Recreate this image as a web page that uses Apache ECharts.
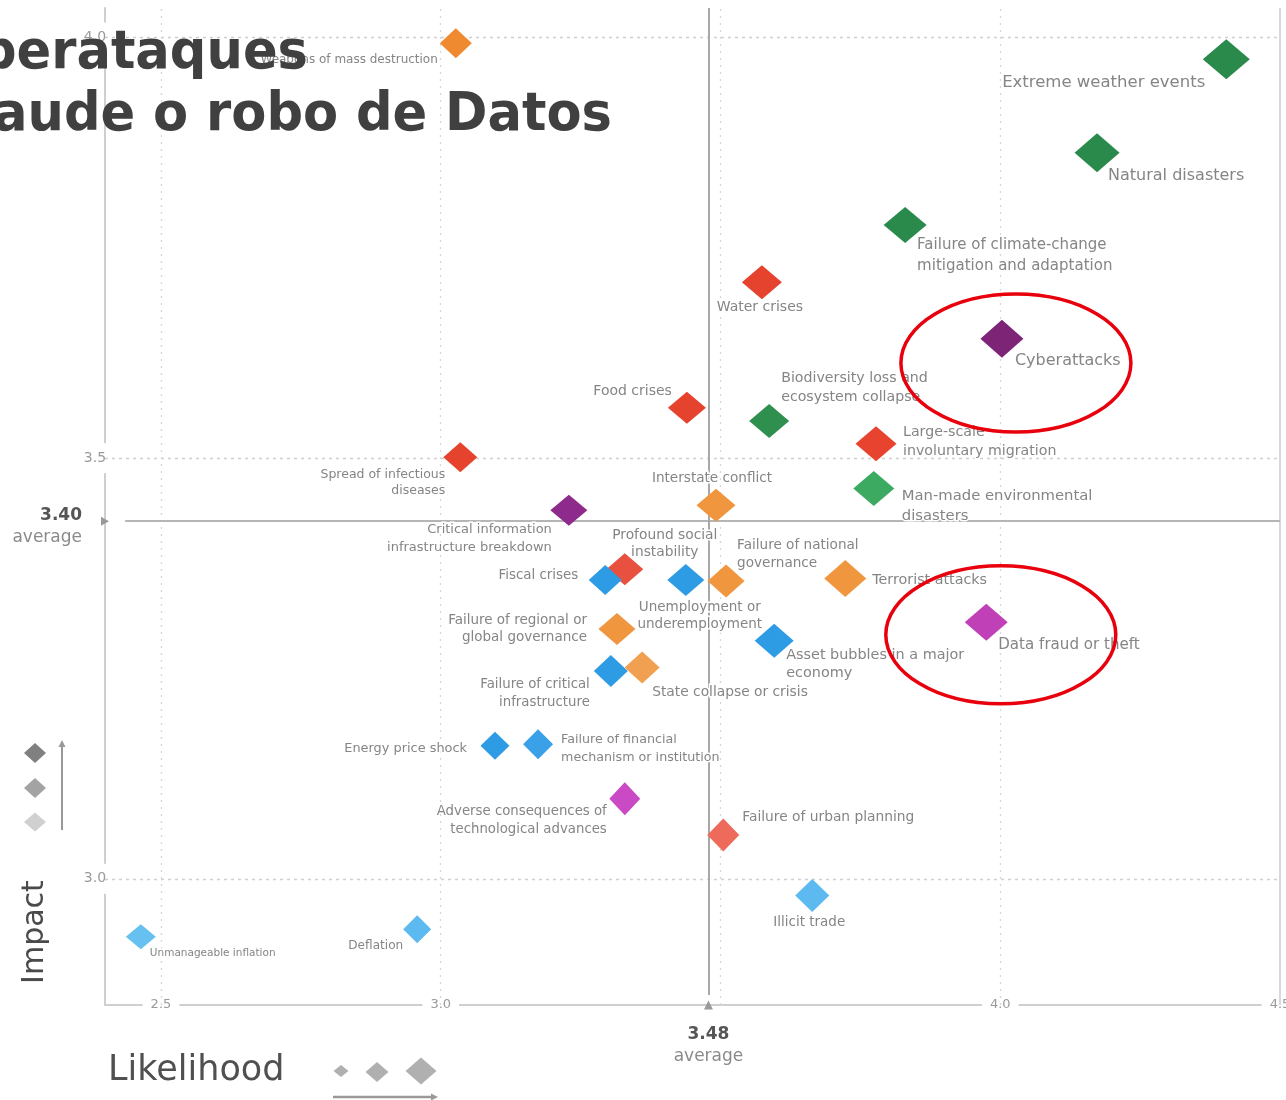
<!DOCTYPE html>
<html><head><meta charset="utf-8">
<script src="https://cdn.jsdelivr.net/npm/echarts@6/dist/echarts.min.js"></script>
<style>html,body{margin:0;padding:0;background:#fff;overflow:hidden;width:1286px;height:1100px}#c{width:1286px;height:1100px}</style>
</head><body><div id="c"></div>
<script>
// ---------- DATA ----------
const riskNames = [
  'Weapons of mass destruction',
  'Extreme weather events',
  'Natural disasters',
  'Failure of climate-change\nmitigation and adaptation',
  'Water crises',
  'Cyberattacks',
  'Biodiversity loss and\necosystem collapse',
  'Food crises',
  'Large-scale\ninvoluntary migration',
  'Spread of infectious\ndiseases',
  'Man-made environmental\ndisasters',
  'Interstate conflict',
  'Critical information\ninfrastructure breakdown',
  'Profound social\ninstability',
  'Fiscal crises',
  'Unemployment or\nunderemployment',
  'Failure of national\ngovernance',
  'Terrorist attacks',
  'Data fraud or theft',
  'Failure of regional or\nglobal governance',
  'Asset bubbles in a major\neconomy',
  'Failure of critical\ninfrastructure',
  'State collapse or crisis',
  'Energy price shock',
  'Failure of financial\nmechanism or institution',
  'Adverse consequences of\ntechnological advances',
  'Failure of urban planning',
  'Illicit trade',
  'Deflation',
  'Unmanageable inflation'
];
const likelihood = [3.027, 4.404, 4.173, 3.830, 3.574, 4.003, 3.587, 3.440, 3.778, 3.035,
                    3.774, 3.492, 3.229, 3.329, 3.294, 3.438, 3.510, 3.723, 3.975, 3.315,
                    3.596, 3.304, 3.360, 3.097, 3.174, 3.329, 3.505, 3.664, 2.958, 2.464];
const impact =     [3.993, 3.974, 3.863, 3.777, 3.709, 3.642, 3.544, 3.560, 3.517, 3.501,
                    3.464, 3.444, 3.438, 3.368, 3.355, 3.355, 3.354, 3.357, 3.305, 3.297,
                    3.283, 3.247, 3.251, 3.158, 3.160, 3.095, 3.052, 2.980, 2.940, 2.931];
const xTickValues = [2.5, 3.0, 4.0, 4.5];
const yTickValues = [3.0, 3.5, 4.0];
const xGridValues = [2.5, 3.0, 3.5, 4.0];
const yGridValues = [3.0, 3.5, 4.0];
const avgLikelihood = 3.48;
const avgImpact = 3.40;
const avgImpactLine = 3.425;     // where the average line is drawn in the picture
const avgLikelihoodLine = 3.4785;
const highlightCenters = [[4.028, 3.613], [4.001, 3.290]];

// ---------- STYLE ----------
const pointColors = ['#F08A30','#2A8A4C','#2A8A4C','#2A8A4C','#E5432D','#7D2477','#2F8F4E','#E5432D','#E8432F','#E5432D',
  '#3DAA62','#F0963E','#8E2A8C','#E8503F','#2E9BE5','#2E9BE5','#F0963E','#F0963E','#C040B8','#F0963E',
  '#2E9BE5','#2E9BE5','#F0A050','#2E9BE5','#3AA0E8','#C94AC4','#EE6A5A','#5CBAF0','#5CBAF0','#66C0F0'];
const symbolSizes = [[32,30],[47,40],[45,39],[43,36],[40,34],[43,38],[40,34],[38,32],[41,35],[34,30],
  [41,35],[39,33],[37,31],[37,32],[33,30],[37,32],[37,33],[42,37],[43,37],[37,32],
  [39,34],[34,32],[35,32],[29,28],[30,30],[31,33],[32,33],[34,33],[28,28],[30,25]];
// [align, dx, dy, fontSize, lineHeight]
const labelLayout = [
  ['right',-18,17,12,14], ['right',-21,23,16.5,20], ['left',11,23,16,20], ['left',12,30.5,15,21],
  ['center',-2,25,14,17], ['left',13,22,16,20], ['left',12,-33.5,14.2,19], ['right',-15,-16,14,17],
  ['left',27,-1.5,14.2,19], ['right',-15,25,12.5,16], ['left',28,18,14.8,20], ['center',-4,-27,13.6,17],
  ['right',-17,28,13,18], ['center',40,-25.5,13.8,17], ['right',-27,-5,13.4,16], ['center',14,35.5,13.5,17],
  ['left',11,-26,13.6,18], ['left',27,2,14.3,17], ['left',12,23,15.1,18], ['right',-30,0,13.5,17],
  ['left',12,24,14.4,18], ['right',-21,23,13.3,18], ['left',10,25,13.8,17], ['right',-28,3,12.9,16],
  ['left',23,5,12.7,18], ['right',-18,22,13.3,18], ['left',19,-18,13.8,17], ['center',-3,27,13.5,17],
  ['right',-14,17,12.1,15], ['left',9,16,10.5,13]
];
const FONT = 'DejaVu Sans';

const chart = echarts.init(document.getElementById('c'), null, {renderer: 'canvas', width: 1286, height: 1100});

const points = likelihood.map((x, i) => {
  const L = labelLayout[i];
  return {
    name: riskNames[i],
    value: [x, impact[i]],
    symbolSize: symbolSizes[i],
    itemStyle: {color: pointColors[i], opacity: 1},
    label: {
      show: true, position: 'inside', formatter: '{b}',
      align: L[0], verticalAlign: 'middle', offset: [L[1], L[2]],
      fontSize: L[3], lineHeight: L[4], fontFamily: FONT, color: '#858585',
      textBorderColor: '#fff', textBorderWidth: 3
    }
  };
});

const gridDash = {color: '#cfcfcf', width: 1.3, type: [3, 4]};
const markLineData = [];
yGridValues.forEach(v => markLineData.push({yAxis: v, lineStyle: gridDash}));
xGridValues.forEach(v => markLineData.push({xAxis: v, lineStyle: {color: '#d6d6d6', width: 1.3, type: [2, 5]}}));
markLineData.push({xAxis: 4.5, lineStyle: {color: '#d8d8d8', width: 2, type: 'solid'}});
markLineData.push([{coord: [2.436, avgImpactLine]}, {coord: [4.5, avgImpactLine], lineStyle: {color: '#b5b5b5', width: 2, type: 'solid'}}]);
markLineData.push([{coord: [avgLikelihoodLine, 4.035]}, {coord: [avgLikelihoodLine, 2.862], lineStyle: {color: '#a8a8a8', width: 2, type: 'solid'}}]);

const avgRich = {
  b: {fontFamily: FONT, fontWeight: 'bold', fontSize: 17, color: '#555', lineHeight: 22},
  n: {fontFamily: FONT, fontSize: 17, color: '#8a8a8a', lineHeight: 22}
};

const option = {
  animation: false,
  backgroundColor: '#fff',
  grid: {left: 105, right: 6, top: 8, bottom: 95, containLabel: false, outerBoundsMode: 'none'},
  xAxis: {
    type: 'value', min: 2.4, max: 4.5,
    splitLine: {show: false}, axisTick: {show: false},
    axisLine: {show: true, lineStyle: {color: '#cfcfcf', width: 2}},
    axisLabel: {
      customValues: xTickValues, formatter: v => v.toFixed(1),
      color: '#9a9a9a', fontSize: 13, fontFamily: FONT,
      verticalAlign: 'middle', margin: 0, backgroundColor: '#fff', padding: [2, 8]
    }
  },
  yAxis: {
    type: 'value', min: 2.85, max: 4.035,
    splitLine: {show: false}, axisTick: {show: false},
    axisLine: {show: true, lineStyle: {color: '#cfcfcf', width: 2}},
    axisLabel: {
      customValues: yTickValues, formatter: v => v.toFixed(1),
      color: '#9a9a9a', fontSize: 14, fontFamily: FONT,
      align: 'center', verticalAlign: 'middle', margin: 10, backgroundColor: '#fff', padding: [8, 2]
    }
  },
  series: [{
    type: 'scatter', z: 3, symbol: 'diamond',
    data: points,
    markLine: {
      z: 1, silent: true, symbol: ['none', 'none'], label: {show: false},
      data: markLineData
    },
    markPoint: {
      z: 4, silent: true,
      data: [
        {coord: [2.4, avgImpactLine], symbol: 'triangle', symbolRotate: -90, symbolSize: [9, 8],
         itemStyle: {color: '#9a9a9a'},
         label: {show: true, position: 'inside', align: 'right', verticalAlign: 'middle', offset: [-23, 5],
                 formatter: '{b|' + avgImpact.toFixed(2) + '}\n{n|average}', rich: avgRich}},
        {coord: [avgLikelihoodLine, 2.85], symbol: 'triangle', symbolSize: [9, 9],
         itemStyle: {color: '#9a9a9a'},
         label: {show: true, position: 'inside', align: 'center', verticalAlign: 'middle', offset: [0, 41],
                 formatter: '{b|' + avgLikelihood.toFixed(2) + '}\n{n|average}', rich: avgRich}}
      ]
    }
  }]
};
chart.setOption(option);

function diamond(cx, cy, w, h, color) {
  return {type: 'polygon', z: 50, shape: {points: [[cx, cy - h / 2], [cx + w / 2, cy], [cx, cy + h / 2], [cx - w / 2, cy]]},
          style: {fill: color}};
}
const c1 = chart.convertToPixel({gridIndex: 0}, highlightCenters[0]);
const c2 = chart.convertToPixel({gridIndex: 0}, highlightCenters[1]);

chart.setOption({
  graphic: [
    {type: 'text', x: 308, y: 54, scaleX: 0.947, z: 100,
     style: {text: 'perataques', fontFamily: FONT, fontWeight: 'bold', fontSize: 54, fill: '#404040', align: 'right', verticalAlign: 'middle'}},
    {type: 'text', x: 612, y: 116, scaleX: 0.947, z: 100,
     style: {text: 'aude o robo de Datos', fontFamily: FONT, fontWeight: 'bold', fontSize: 54, fill: '#404040', align: 'right', verticalAlign: 'middle'}},
    {type: 'text', x: 35, y: 932, rotation: Math.PI / 2, z: 50,
     style: {text: 'Impact', fontFamily: FONT, fontSize: 30, fill: '#4a4a4a', align: 'center', verticalAlign: 'middle'}},
    {type: 'text', x: 108, y: 1071, z: 50,
     style: {text: 'Likelihood', fontFamily: FONT, fontSize: 35, fill: '#505050', align: 'left', verticalAlign: 'middle'}},
    diamond(35, 753, 22, 20, '#808080'),
    diamond(35, 788, 22, 20, '#a3a3a3'),
    diamond(35, 822, 22, 19, '#d0d0d0'),
    {type: 'line', z: 50, shape: {x1: 62, y1: 830, x2: 62, y2: 745}, style: {stroke: '#999', lineWidth: 2}},
    {type: 'polygon', z: 50, shape: {points: [[62, 740], [65.5, 747], [58.5, 747]]}, style: {fill: '#999'}},
    diamond(341, 1071, 15, 12, '#b0b0b0'),
    diamond(377, 1072, 23, 20, '#b0b0b0'),
    diamond(421, 1071, 31, 27, '#b0b0b0'),
    {type: 'line', z: 50, shape: {x1: 333, y1: 1097, x2: 433, y2: 1097}, style: {stroke: '#999', lineWidth: 2.5}},
    {type: 'polygon', z: 50, shape: {points: [[438, 1097], [431, 1093.5], [431, 1100.5]]}, style: {fill: '#999'}},
    {type: 'ellipse', z: 90, shape: {cx: c1[0], cy: c1[1], rx: 115, ry: 69}, style: {fill: 'none', stroke: '#E8000C', lineWidth: 3.5}},
    {type: 'ellipse', z: 90, shape: {cx: c2[0], cy: c2[1], rx: 115, ry: 69}, style: {fill: 'none', stroke: '#E8000C', lineWidth: 3.5}}
  ]
});
</script>
</body></html>
